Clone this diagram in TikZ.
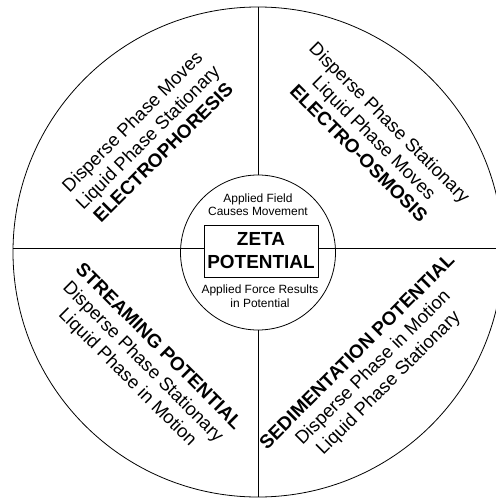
\documentclass[tikz,border=0pt]{standalone}
\usepackage{fontspec}
\setmainfont{Liberation Sans}
\usetikzlibrary{positioning}

\begin{document}
\begin{tikzpicture}[x=1bp, y=-1bp,
    ring/.style={circle, draw, line width=0.8pt, inner sep=0pt},
    divider/.style={line width=0.8pt},
    quad/.style={align=center, inner sep=0pt, font=\fontsize{18.5}{22}\selectfont},
    note/.style={align=center, inner sep=0pt, font=\fontsize{12}{13.5}\selectfont}
  ]

    \useasboundingbox (0,0) rectangle (496,499);
    \clip (0,0) rectangle (496,499);

    \node[ring, minimum size=490bp] (outer) at (258,252) {};
    \node[ring, minimum size=155bp] (core) at (258,252.5) {};
    \node[draw, line width=0.8pt, minimum width=114bp, minimum height=52bp, align=center,
      font=\fontsize{19}{23}\selectfont\bfseries] (zeta) at (261,251) {ZETA\\POTENTIAL};
    \coordinate (axis) at (0,248);

    \draw[divider] (outer.north) -- (core.north);
    \draw[divider] (core.south) -- (outer.south);
    \draw[divider] (outer.west |- axis) -- (zeta.west |- axis);
    \draw[divider] (zeta.east |- axis) -- (outer.east |- axis);

    \node[note] (field) at (258,205) {Applied Field\\Causes Movement};
    \node[note] (force) at (260,296) {Applied Force Results\\in Potential};

    % the four effects
    \node[quad, rotate=45] (phoresis) at (147.5,137)
      {Disperse Phase Moves\\Liquid Phase Stationary\\{\fontsize{19}{22}\selectfont\bfseries ELECTROPHORESIS}};
    \node[quad, rotate=-45] (osmosis) at (374.4,137.7)
      {Disperse Phase Stationary\\Liquid Phase Moves\\{\fontsize{19}{22}\selectfont\bfseries ELECTRO-OSMOSIS}};
    \node[quad, rotate=-45] (streaming) at (142.5,362.5)
      {{\fontsize{19}{22}\selectfont\bfseries STREAMING POTENTIAL}\\Disperse Phase Stationary\\Liquid Phase in Motion};
    \node[quad, rotate=45] (sediment) at (373.5,368)
      {{\fontsize{19}{22}\selectfont\bfseries SEDIMENTATION POTENTIAL}\\Disperse Phase in Motion\\Liquid Phase Stationary};

  \end{tikzpicture}
\end{document}
